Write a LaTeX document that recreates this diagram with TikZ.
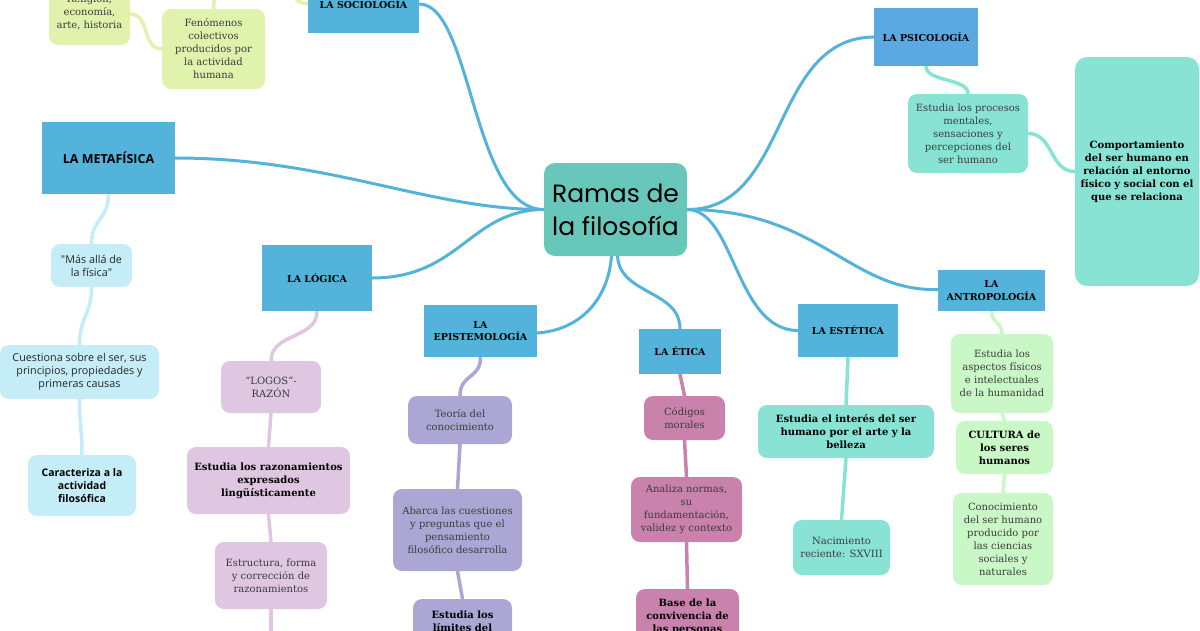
\documentclass[tikz,border=0pt]{standalone}
\usepackage{fontspec}
\setmainfont{DejaVu Serif}
\newfontfamily\osans{Open Sans}
\newfontfamily\titlefont{Poppins}
\usetikzlibrary{backgrounds}
\definecolor{headblue}{HTML}{53B3DA}
\definecolor{psiblue}{HTML}{5BA9E1}
\definecolor{centerteal}{HTML}{68C7BB}
\definecolor{socgreen}{HTML}{E0F2AC}
\definecolor{psiteal}{HTML}{88E3D5}
\definecolor{metacyan}{HTML}{C4EDF7}
\definecolor{loglilac}{HTML}{DFC6E1}
\definecolor{epilav}{HTML}{ABA6D4}
\definecolor{etimauve}{HTML}{C882AC}
\definecolor{antgreen}{HTML}{C9F7C5}
\definecolor{txtgray}{HTML}{3C3C3C}
\tikzset{
  basebox/.style={inner sep=0pt, align=center, font=\fontsize{10}{13}\selectfont},
  headbox/.style={basebox, fill=headblue, text=black, font=\fontsize{9.5}{12.5}\selectfont\bfseries},
  kidbox/.style={basebox, rounded corners=9pt, text=txtgray},
  boldkid/.style={kidbox, text=black, font=\fontsize{10}{13}\selectfont\bfseries},
  sanskid/.style={kidbox, fill=metacyan, text=black!85, font=\osans\fontsize{10.8}{13}\selectfont},
  mainln/.style={draw=headblue, line width=3pt, line cap=round},
  kidln/.style={line width=3.5pt, line cap=round},
}
\begin{document}
\begin{tikzpicture}[x=1pt,y=-1pt]
\useasboundingbox (0,0) rectangle (1200,630);
\clip (0,0) rectangle (1200,630);

% central
\node[basebox, fill=centerteal, rounded corners=11pt, minimum width=143pt, minimum height=93pt,
  font=\titlefont\fontsize{25}{33}\selectfont, text=black] (ctr) at (615.5,209.5) {Ramas de\\la filosofía};

% sociologia
\node[headbox, minimum width=111pt, minimum height=58pt] (soc) at (363.5,4) {LA SOCIOLOGÍA};
\node[kidbox, fill=socgreen, minimum width=81pt, minimum height=66pt] (relig) at (89.5,12) {Religión,\\economía,\\arte, historia};
\node[kidbox, fill=socgreen, minimum width=103pt, minimum height=80pt] (fenom) at (213.5,49) {Fenómenos\\colectivos\\producidos por\\la actividad\\humana};
\coordinate (socup) at (286,-25);
\coordinate (fenup) at (218,-25);

% psicologia
\node[headbox, fill=psiblue, minimum width=104pt, minimum height=58pt] (psi) at (926,37) {LA PSICOLOGÍA};
\node[kidbox, fill=psiteal, minimum width=120pt, minimum height=79pt] (proc) at (968,133.5) {Estudia los procesos\\mentales,\\sensaciones y\\percepciones del\\ser humano};
\node[boldkid, fill=psiteal, rounded corners=12pt, minimum width=124pt, minimum height=229pt] (comp) at (1137,171.5) {Comportamiento\\del ser humano en\\relación al entorno\\físico y social con el\\que se relaciona};

% metafisica
\node[headbox, minimum width=133pt, minimum height=72pt, font=\osans\fontsize{12.5}{14}\selectfont\bfseries] (meta) at (108.5,158) {LA METAFÍSICA};
\node[sanskid, minimum width=81pt, minimum height=43pt] (masalla) at (91.5,265.5) {"Más allá de\\la física"};
\node[sanskid, minimum width=159pt, minimum height=54pt] (cuest) at (79.5,372) {Cuestiona sobre el ser, sus\\principios, propiedades y\\primeras causas};
\node[sanskid, minimum width=108pt, minimum height=61pt, font=\osans\fontsize{10.5}{13}\selectfont\bfseries, text=black] (caract) at (82,485.5) {Caracteriza a la\\actividad\\filosófica};

% logica
\node[headbox, minimum width=110pt, minimum height=66pt] (logi) at (317,278) {LA LÓGICA};
\node[kidbox, fill=loglilac, minimum width=100pt, minimum height=52pt] (logos) at (271,387) {"LOGOS"-\\RAZÓN};
\node[boldkid, fill=loglilac, minimum width=163pt, minimum height=67pt] (razon) at (268.5,480.5) {Estudia los razonamientos\\expresados\\lingüísticamente};
\node[kidbox, fill=loglilac, minimum width=112pt, minimum height=67pt] (estruc) at (271,575.5) {Estructura, forma\\y corrección de\\razonamientos};
\coordinate (logdown) at (271,645);

% epistemologia
\node[headbox, minimum width=113pt, minimum height=52pt] (epi) at (480.5,331) {LA\\EPISTEMOLOGÍA};
\node[kidbox, fill=epilav, minimum width=104pt, minimum height=48pt] (teoria) at (460,420) {Teoría del\\conocimiento};
\node[kidbox, fill=epilav, minimum width=129pt, minimum height=82pt] (abarca) at (457.5,530) {Abarca las cuestiones\\y preguntas que el\\pensamiento\\filosófico desarrolla};
\node[boldkid, fill=epilav, minimum width=99pt, minimum height=45pt] (limites) at (462.5,621.5) {Estudia los\\límites del};

% etica
\node[headbox, minimum width=82pt, minimum height=45pt] (eti) at (680,351.5) {LA ÉTICA};
\node[kidbox, fill=etimauve, minimum width=81pt, minimum height=44pt] (codig) at (684.5,418) {Códigos\\morales};
\node[kidbox, fill=etimauve, minimum width=111pt, minimum height=65pt] (analiza) at (686.5,509.5) {Analiza normas,\\su\\fundamentación,\\validez y contexto};
\node[boldkid, fill=etimauve, minimum width=103pt, minimum height=56pt] (basec) at (687.5,617) {Base de la\\convivencia de\\las personas};

% estetica
\node[headbox, minimum width=100pt, minimum height=53pt] (este) at (848,330.5) {LA ESTÉTICA};
\node[boldkid, fill=psiteal, minimum width=176pt, minimum height=53pt] (interes) at (846,431.5) {Estudia el interés del ser\\humano por el arte y la\\belleza};
\node[kidbox, fill=psiteal, minimum width=97pt, minimum height=55pt] (nacim) at (841.5,547.5) {Nacimiento\\reciente: SXVIII};

% antropologia
\node[headbox, minimum width=107pt, minimum height=41pt] (antro) at (991.5,290.5) {LA\\ANTROPOLOGÍA};
\node[kidbox, fill=antgreen, minimum width=102pt, minimum height=79pt] (aspec) at (1002,373.5) {Estudia los\\aspectos físicos\\e intelectuales\\de la humanidad};
\node[boldkid, fill=antgreen, minimum width=97pt, minimum height=53pt] (cultu) at (1004.5,447.5) {CULTURA de\\los seres\\humanos};
\node[kidbox, fill=antgreen, minimum width=100pt, minimum height=92pt] (conoc) at (1003,539) {Conocimiento\\del ser humano\\producido por\\las ciencias\\sociales y\\naturales};

\begin{pgfonlayer}{background}
% main branches
\draw[mainln] (ctr.west) .. controls (472,210) and (472,4) .. (soc.east);
\draw[mainln] (ctr.west) .. controls (430,210) and (330,158) .. (meta.east);
\draw[mainln] (ctr.west) .. controls (470,210) and (460,278) .. (logi.east);
\draw[mainln] ([xshift=-4pt]ctr.south) .. controls (608,300) and (580,330) .. ([yshift=-2pt]epi.east);
\draw[mainln] ([xshift=2pt]ctr.south) .. controls (620,295) and (680,290) .. (eti.north);
\draw[mainln] (ctr.east) .. controls (735,210) and (735,330) .. (este.west);
\draw[mainln] (ctr.east) .. controls (820,210) and (850,292) .. ([yshift=1pt]antro.west);
\draw[mainln] (ctr.east) .. controls (790,210) and (770,38) .. (psi.west);
% sociologia
\draw[kidln, draw=socgreen] (soc.west) .. controls +(-14,0) and +(0,12) .. (socup);
\draw[kidln, draw=socgreen] (fenom.north) .. controls +(0,-10) and +(0,10) .. (fenup);
\draw[kidln, draw=socgreen] ([yshift=-2pt]relig.east) .. controls +(20,0) and +(-20,0) .. (fenom.west);
% psicologia
\draw[kidln, draw=psiteal] (psi.south) .. controls +(0,16) and +(0,-16) .. (proc.north);
\draw[kidln, draw=psiteal] (proc.east) .. controls +(25,0) and +(-25,0) .. (comp.west);
% metafisica
\draw[kidln, draw=metacyan] (meta.south) .. controls +(0,25) and +(0,-25) .. (masalla.north);
\draw[kidln, draw=metacyan] (masalla.south) .. controls +(0,28) and +(0,-28) .. (cuest.north);
\draw[kidln, draw=metacyan] (cuest.south) .. controls +(0,28) and +(0,-28) .. (caract.north);
% logica
\draw[kidln, draw=loglilac] (logi.south) .. controls +(0,28) and +(0,-28) .. (logos.north);
\draw[kidln, draw=loglilac] (logos.south) -- (razon.north);
\draw[kidln, draw=loglilac] (razon.south) -- (estruc.north);
\draw[kidln, draw=loglilac] (estruc.south) -- (logdown);
% epistemologia
\draw[kidln, draw=epilav] (epi.south) .. controls +(0,22) and +(0,-22) .. (teoria.north);
\draw[kidln, draw=epilav] (teoria.south) -- (abarca.north);
\draw[kidln, draw=epilav] (abarca.south) -- (limites.north);
% etica
\draw[kidln, draw=etimauve] (eti.south) -- (codig.north);
\draw[kidln, draw=etimauve] (codig.south) -- (analiza.north);
\draw[kidln, draw=etimauve] (analiza.south) -- (basec.north);
% estetica
\draw[kidln, draw=psiteal] (este.south) -- (interes.north);
\draw[kidln, draw=psiteal] (interes.south) -- (nacim.north);
% antropologia
\draw[kidln, draw=antgreen] (antro.south) .. controls +(0,12) and +(0,-12) .. (aspec.north);
\draw[kidln, draw=antgreen] (aspec.south) -- (cultu.north);
\draw[kidln, draw=antgreen] (cultu.south) -- (conoc.north);
\end{pgfonlayer}
\end{tikzpicture}
\end{document}
